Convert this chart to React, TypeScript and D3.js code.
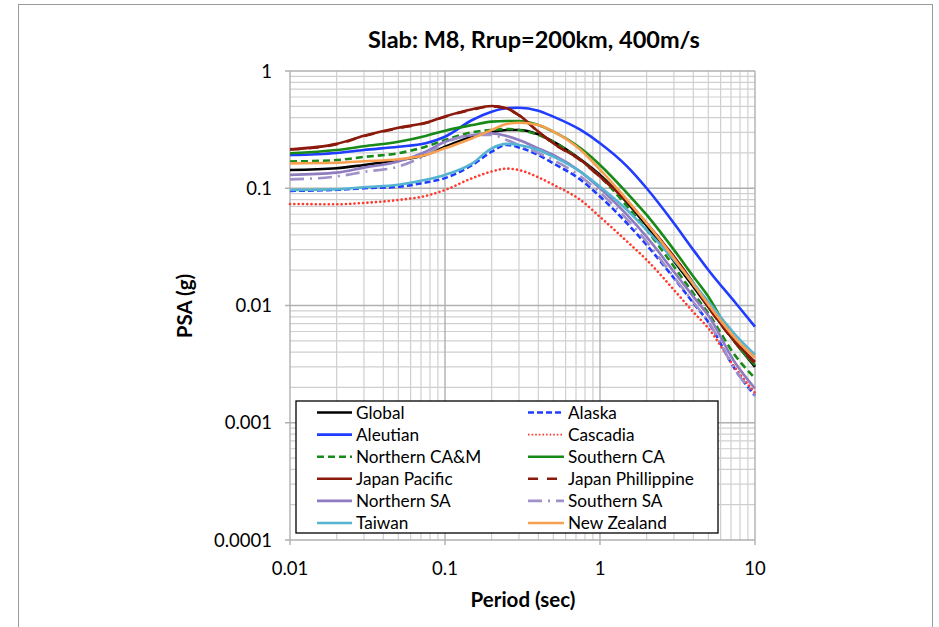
import React from "react";
import * as d3 from "d3";

const periods = [0.01, 0.02, 0.03, 0.05, 0.075, 0.1, 0.15, 0.2, 0.25, 0.3, 0.4, 0.5, 0.75, 1, 1.5, 2, 3, 4, 5, 7.5, 10];

const globalPSA = [0.143, 0.148, 0.158, 0.174, 0.192, 0.226, 0.275, 0.3, 0.314, 0.314, 0.288, 0.25, 0.176, 0.13, 0.075, 0.048, 0.024, 0.0145, 0.0097, 0.0048, 0.003];
const alaskaPSA = [0.095, 0.097, 0.1, 0.103, 0.112, 0.122, 0.158, 0.205, 0.234, 0.223, 0.192, 0.163, 0.118, 0.085, 0.05, 0.0328, 0.0171, 0.0105, 0.0072, 0.0028, 0.0017];
const aleutianPSA = [0.192, 0.2, 0.212, 0.226, 0.242, 0.275, 0.382, 0.45, 0.481, 0.486, 0.459, 0.408, 0.314, 0.242, 0.153, 0.1, 0.0503, 0.0298, 0.0201, 0.0105, 0.0066];
const cascadiaPSA = [0.0735, 0.073, 0.075, 0.0794, 0.086, 0.0967, 0.122, 0.139, 0.147, 0.143, 0.124, 0.107, 0.0793, 0.057, 0.035, 0.0245, 0.0136, 0.0088, 0.0064, 0.0029, 0.0018];
const northernCAMPSA = [0.169, 0.174, 0.185, 0.199, 0.226, 0.258, 0.3, 0.314, 0.32, 0.314, 0.285, 0.249, 0.174, 0.126, 0.0697, 0.044, 0.0215, 0.0127, 0.0086, 0.0037, 0.0024];
const southernCAPSA = [0.199, 0.212, 0.228, 0.249, 0.279, 0.31, 0.346, 0.37, 0.375, 0.375, 0.346, 0.304, 0.219, 0.158, 0.0906, 0.0592, 0.0298, 0.0177, 0.0119, 0.0048, 0.0031];
const japanPacificPSA = [0.215, 0.239, 0.28, 0.328, 0.362, 0.41, 0.472, 0.503, 0.481, 0.42, 0.304, 0.242, 0.174, 0.1256, 0.0769, 0.0503, 0.0261, 0.0155, 0.0098, 0.0049, 0.0033];
const japanPhilippinePSA = [0.214, 0.237, 0.278, 0.325, 0.36, 0.408, 0.468, 0.498, 0.478, 0.418, 0.303, 0.241, 0.173, 0.125, 0.0765, 0.05, 0.026, 0.0154, 0.0097, 0.0048, 0.0032];
const northernSAPSA = [0.13, 0.136, 0.15, 0.169, 0.205, 0.249, 0.285, 0.294, 0.279, 0.258, 0.219, 0.192, 0.138, 0.1, 0.059, 0.0385, 0.0194, 0.0119, 0.0082, 0.0032, 0.00196];
const southernSAPSA = [0.119, 0.126, 0.138, 0.153, 0.192, 0.242, 0.285, 0.285, 0.258, 0.234, 0.2, 0.174, 0.126, 0.092, 0.054, 0.035, 0.0175, 0.0107, 0.0073, 0.0028, 0.0017];
const taiwanPSA = [0.0967, 0.098, 0.102, 0.107, 0.118, 0.13, 0.163, 0.219, 0.239, 0.234, 0.212, 0.186, 0.138, 0.103, 0.065, 0.044, 0.0245, 0.0155, 0.0108, 0.0056, 0.0038];
const newZealandPSA = [0.163, 0.165, 0.17, 0.177, 0.192, 0.219, 0.267, 0.314, 0.353, 0.362, 0.346, 0.304, 0.212, 0.144, 0.0793, 0.0503, 0.0253, 0.0151, 0.0102, 0.0052, 0.0036];

const seriesNames = ["Global", "Alaska", "Aleutian", "Cascadia", "Northern CA&M", "Southern CA", "Japan Pacific", "Japan Phillippine", "Northern SA", "Southern SA", "Taiwan", "New Zealand"];
const seriesValues = [globalPSA, alaskaPSA, aleutianPSA, cascadiaPSA, northernCAMPSA, southernCAPSA, japanPacificPSA, japanPhilippinePSA, northernSAPSA, southernSAPSA, taiwanPSA, newZealandPSA];
const seriesColors = ["#000000", "#1f3cff", "#1f3cff", "#ff3a2e", "#178a17", "#178a17", "#8c1a0c", "#8c1a0c", "#8f7bbf", "#a091c9", "#55b4d2", "#f8a050"];
const seriesDash = ["", "6,3", "", "0.1,4.2", "7,4", "", "", "10,9", "", "14,6,2,6", "", ""];

const xTicks = [0.01, 0.1, 1, 10];
const xTickLabels = ["0.01", "0.1", "1", "10"];
const yTicks = [1, 0.1, 0.01, 0.001, 0.0001];
const yTickLabels = ["1", "0.1", "0.01", "0.001", "0.0001"];

const W = 939;
const H = 627;
const left = 290;
const right = 755;
const top = 71;
const bottom = 540;
const font = "Lato, 'Open Sans', sans-serif";

export default function App() {
  const x = d3.scaleLog().domain([0.01, 10]).range([left, right]);
  const y = d3.scaleLog().domain([0.0001, 1]).range([bottom, top]);

  const minorX: number[] = [];
  const minorY: number[] = [];
  for (let e = -2; e < 1; e++) for (let m = 2; m <= 9; m++) minorX.push(m * Math.pow(10, e));
  for (let e = -4; e < 0; e++) for (let m = 2; m <= 9; m++) minorY.push(m * Math.pow(10, e));

  const line = d3
    .line<number>()
    .x((_, i) => x(periods[i]))
    .y((d) => y(d))
    .curve(d3.curveMonotoneX);

  const legX = 296;
  const legY = 401;
  const legW = 422;
  const legH = 132;
  const isDotted = (i: number) => seriesDash[i] === "0.1,4.2";

  return (
    <svg width={W} height={H} style={{ display: "block", position: "absolute", left: 0, top: 0 }}>
      <rect x={0} y={0} width={W} height={H} fill="#fff" />
      <rect x={18.5} y={4.5} width={914} height={640} fill="#fff" stroke="#9a9a9a" strokeWidth={1} />
      <text x={534} y={48} textAnchor="middle" fontFamily={font} fontWeight="bold" fontSize={23.5} fill="#000">
        Slab: M8, Rrup=200km, 400m/s
      </text>

      {/* minor grid */}
      {minorX.map((v) => (
        <line key={"mx" + v} x1={x(v)} x2={x(v)} y1={top} y2={bottom} stroke="#cfcfcf" strokeWidth={1.2} />
      ))}
      {minorY.map((v) => (
        <line key={"my" + v} x1={left} x2={right} y1={y(v)} y2={y(v)} stroke="#cfcfcf" strokeWidth={1.2} />
      ))}
      {/* major grid */}
      {xTicks.map((v) => (
        <line key={"Mx" + v} x1={x(v)} x2={x(v)} y1={top} y2={bottom + 5} stroke="#b0b0b0" strokeWidth={1.4} />
      ))}
      {yTicks.map((v) => (
        <line key={"My" + v} x1={left - 5} x2={right} y1={y(v)} y2={y(v)} stroke="#b0b0b0" strokeWidth={1.4} />
      ))}

      {/* series */}
      {seriesValues.map((vals, i) => (
        <path
          key={seriesNames[i]}
          d={line(vals) || ""}
          fill="none"
          stroke={seriesColors[i]}
          strokeWidth={isDotted(i) ? 2.6 : 2.6}
          strokeDasharray={seriesDash[i] || undefined}
          strokeLinecap={isDotted(i) ? "round" : "butt"}
          strokeLinejoin="round"
        />
      ))}

      {/* axis labels */}
      {yTicks.map((v, i) => (
        <text key={"yl" + v} x={272} y={y(v) + 6.5} textAnchor="end" fontFamily={font} fontSize={18.5} fill="#000">
          {yTickLabels[i]}
        </text>
      ))}
      {xTicks.map((v, i) => (
        <text key={"xl" + v} x={x(v)} y={575} textAnchor="middle" fontFamily={font} fontSize={18.5} fill="#000">
          {xTickLabels[i]}
        </text>
      ))}
      <text x={523} y={607} textAnchor="middle" fontFamily={font} fontWeight="bold" fontSize={20.5} fill="#000">
        Period (sec)
      </text>
      <text
        transform={`translate(192, 306) rotate(-90)`}
        textAnchor="middle"
        fontFamily={font}
        fontWeight="bold"
        fontSize={20.5}
        fill="#000"
      >
        PSA (g)
      </text>

      {/* legend */}
      <rect x={legX} y={legY} width={legW} height={legH} fill="#fff" stroke="#000" strokeWidth={1.3} />
      {seriesNames.map((name, i) => {
        const col = i % 2;
        const row = Math.floor(i / 2);
        const ly = 412.5 + row * 22.1;
        const lx0 = col === 0 ? 317 : 528;
        const lx1 = col === 0 ? 352 : 564;
        return (
          <g key={"lg" + name}>
            <line
              x1={lx0}
              x2={lx1}
              y1={ly}
              y2={ly}
              stroke={seriesColors[i]}
              strokeWidth={isDotted(i) ? 1.6 : 2.6}
              strokeDasharray={isDotted(i) ? "1.6,2" : seriesDash[i] || undefined}
            />
            <text x={lx1 + 4} y={ly + 6} fontFamily={font} fontSize={17.2} fill="#000">
              {name}
            </text>
          </g>
        );
      })}
    </svg>
  );
}
